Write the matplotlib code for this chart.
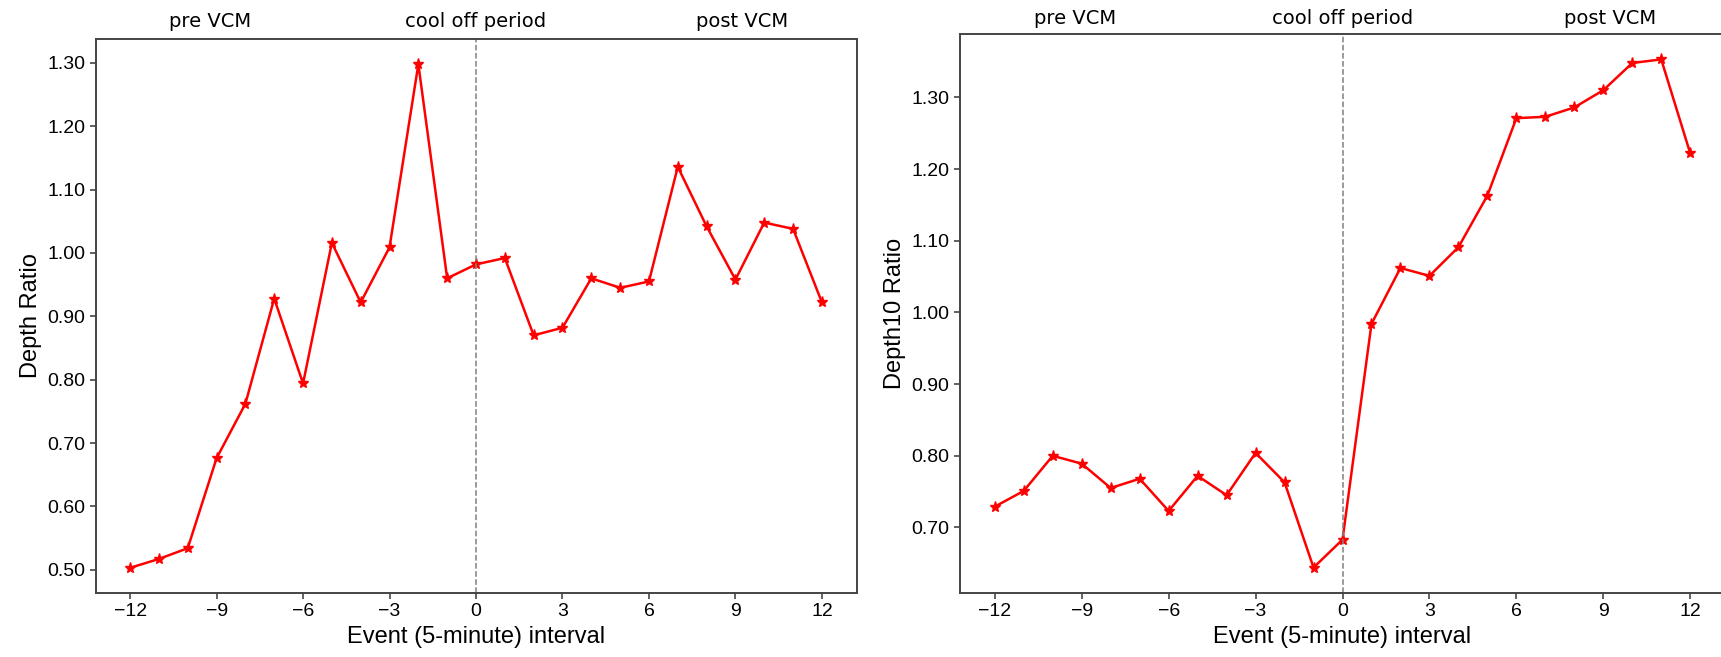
import matplotlib
matplotlib.use("Agg")
import matplotlib.pyplot as plt
from matplotlib.ticker import FormatStrFormatter, MultipleLocator

intervals = list(range(-12, 13))
depth_ratio = [0.503, 0.517, 0.534, 0.676, 0.762, 0.928, 0.794, 1.016, 0.922, 1.009,
               1.298, 0.960, 0.982, 0.992, 0.870, 0.882, 0.960, 0.945, 0.955, 1.136,
               1.042, 0.958, 1.048, 1.038, 0.922]
depth10_ratio = [0.729, 0.751, 0.800, 0.789, 0.755, 0.768, 0.723, 0.772, 0.745, 0.804,
                 0.763, 0.644, 0.683, 0.984, 1.062, 1.051, 1.091, 1.163, 1.271, 1.273,
                 1.286, 1.310, 1.348, 1.353, 1.222]
period_labels = ["pre VCM", "cool off period", "post VCM"]
period_pos = [0.15, 0.5, 0.85]

W, H = 1721, 657
fig = plt.figure(figsize=(W / 100, H / 100), dpi=100)

tick_font = "Liberation Sans"

def setup(ax, x, y, ylabel, text_off_px, ax_h_px):
    ax.plot(x, y, color="red", marker="*", markersize=8, linewidth=1.8)
    ax.axvline(0, color="#808080", linestyle="--", linewidth=1.1)
    ax.xaxis.set_major_locator(MultipleLocator(3))
    ax.yaxis.set_major_formatter(FormatStrFormatter("%.2f"))
    ax.set_xlabel("Event (5-minute) interval", fontsize=17, family=tick_font)
    ax.set_ylabel(ylabel, fontsize=17, family=tick_font)
    for lab in ax.get_xticklabels() + ax.get_yticklabels():
        lab.set_fontfamily(tick_font)
        lab.set_fontsize(14)
    for s in ax.spines.values():
        s.set_color("#444444")
        s.set_linewidth(1.4)
    ax.tick_params(color="#444444", width=1.2, length=4)
    for lbl, p in zip(period_labels, period_pos):
        ax.text(p, 1 + text_off_px / ax_h_px, lbl, transform=ax.transAxes,
                ha="center", va="baseline", fontsize=14, family="DejaVu Sans")

ax1 = fig.add_axes([95.5 / W, 1 - 593 / H, 761 / W, 554 / H])
setup(ax1, intervals, depth_ratio, "Depth Ratio", 12, 554)

ax2 = fig.add_axes([960 / W, 1 - 593 / H, 765 / W, 559 / H])
setup(ax2, intervals, depth10_ratio, "Depth10 Ratio", 10, 559)

fig.savefig("out.png", dpi=100)
